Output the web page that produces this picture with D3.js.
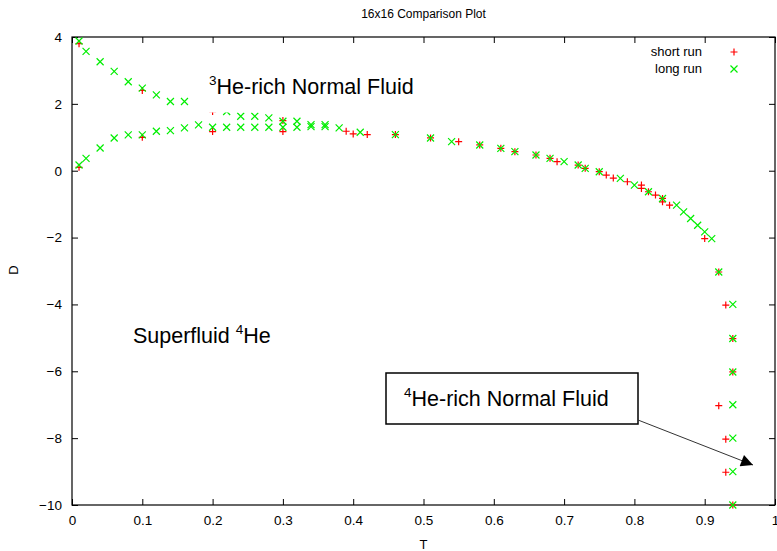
<!DOCTYPE html>
<html><head><meta charset="utf-8">
<script src="https://cdn.jsdelivr.net/npm/d3@7"></script>
<style>
body{margin:0;background:#fff;}
text{font-family:"Liberation Sans",Arial,Helvetica,sans-serif;}
</style></head>
<body><svg id="c" width="777" height="551"></svg>
<script>
const title = "16x16 Comparison Plot";
const xLabel = "T", yLabel = "D";
const xTicks = [0,0.1,0.2,0.3,0.4,0.5,0.6,0.7,0.8,0.9,1];
const yTicks = [4,2,0,-2,-4,-6,-8,-10];
const seriesNames = ["short run","long run"];

const shortT = [0.01,0.10,0.20,0.30,
  0.01,0.10,0.20,0.30,0.39,0.40,0.42,0.46,0.51,0.55,0.58,0.61,0.63,0.66,0.68,0.69,0.72,0.73,0.75,0.76,0.77,0.79,0.81,0.81,0.82,0.83,0.84,0.84,0.85,0.90,0.92,0.93,0.94,0.94,0.92,0.93,0.93,0.94];
const shortD = [3.8,2.4,1.77,1.5,
  0.1,1.0,1.17,1.17,1.18,1.1,1.08,1.08,0.98,0.87,0.77,0.67,0.57,0.47,0.37,0.27,0.17,0.07,-0.03,-0.13,-0.22,-0.33,-0.43,-0.53,-0.63,-0.73,-0.83,-0.93,-1.03,-2.03,-3.03,-4.02,-5.02,-6.02,-7.03,-8.03,-9.02,-10];

const longT = [0.01,0.02,0.04,0.06,0.08,0.10,0.12,0.14,0.16,0.22,0.24,0.26,0.28,0.30,0.32,0.34,0.36,
  0.01,0.02,0.04,0.06,0.08,0.10,0.12,0.14,0.16,0.18,0.20,0.22,0.24,0.26,0.28,0.30,0.32,0.34,0.36,0.38,0.41,0.46,0.51,0.54,0.58,0.61,0.63,0.66,0.68,0.70,0.72,0.73,0.75,0.78,0.80,0.82,0.84,0.86,0.87,0.88,0.89,0.90,0.91,0.92,0.94,0.94,0.94,0.94,0.94,0.94,0.94];
const longD = [3.88,3.57,3.26,2.97,2.66,2.47,2.27,2.07,2.07,1.77,1.63,1.63,1.58,1.48,1.48,1.38,1.38,
  0.17,0.37,0.68,0.98,1.07,1.07,1.18,1.2,1.28,1.37,1.3,1.3,1.3,1.3,1.3,1.3,1.3,1.32,1.32,1.28,1.15,1.08,0.98,0.87,0.77,0.67,0.57,0.47,0.37,0.27,0.17,0.07,-0.03,-0.23,-0.43,-0.63,-0.83,-1.03,-1.23,-1.43,-1.63,-1.83,-2.03,-3.03,-4.0,-5.02,-6.02,-7.0,-8.0,-9.0,-10];

const svg = d3.select("#c");
const L=72, R=775, T=37, B=505;
const x = d3.scaleLinear().domain([0,1]).range([L,R]);
const y = d3.scaleLinear().domain([-10,4]).range([B,T]);

// title
svg.append("text").attr("x",(L+R)/2).attr("y",18).attr("text-anchor","middle")
  .attr("font-size",12).text(title);

// axes with inward ticks
const tl=6;
const fmtX = d=> d===0?"0":(d===1?"1":d3.format(".1f")(d));
const gx = svg.append("g").attr("transform",`translate(0,${B})`)
  .call(d3.axisBottom(x).tickValues(xTicks).tickFormat(fmtX).tickSizeInner(-tl).tickSizeOuter(0).tickPadding(10));
const gxt = svg.append("g").attr("transform",`translate(0,${T})`)
  .call(d3.axisTop(x).tickValues(xTicks).tickFormat("").tickSizeInner(-tl).tickSizeOuter(0));
const gy = svg.append("g").attr("transform",`translate(${L},0)`)
  .call(d3.axisLeft(y).tickValues(yTicks).tickFormat(d3.format("d")).tickSizeInner(-tl).tickSizeOuter(0).tickPadding(10));
const gyr = svg.append("g").attr("transform",`translate(${R},0)`)
  .call(d3.axisRight(y).tickValues(yTicks).tickFormat("").tickSizeInner(-tl).tickSizeOuter(0));
[gx,gxt,gy,gyr].forEach(g=>{
  g.select(".domain").remove();
  g.selectAll("line").attr("stroke","#000").attr("stroke-width",1);
  g.selectAll("text").attr("font-size",13.5).attr("fill","#000")
   .style("font-family",'"Liberation Sans",Arial,sans-serif');
});
svg.append("rect").attr("x",L).attr("y",T).attr("width",R-L).attr("height",B-T)
  .attr("fill","none").attr("stroke","#000").attr("stroke-width",1.2);

// axis labels
svg.append("text").attr("x",(L+R)/2).attr("y",549).attr("text-anchor","middle").attr("font-size",13).text(xLabel);
svg.append("text").attr("x",13).attr("y",270).attr("text-anchor","middle").attr("font-size",13)
  .attr("transform","rotate(-90,13,270)").attr("dy","0.35em").text(yLabel);

// markers
const s=3.5;
const plus = (g,px,py)=>g.append("path").attr("d",`M${px-s},${py}H${px+s}M${px},${py-s}V${py+s}`);
const cross = (g,px,py)=>g.append("path").attr("d",`M${px-s},${py-s}L${px+s},${py+s}M${px-s},${py+s}L${px+s},${py-s}`);

const gS = svg.append("g").attr("stroke","#ff0000").attr("stroke-width",1.2).attr("fill","none");
shortT.forEach((t,i)=>plus(gS,x(t),y(shortD[i])));
const gL = svg.append("g").attr("stroke","#00ee00").attr("stroke-width",1.2).attr("fill","none");
longT.forEach((t,i)=>cross(gL,x(t),y(longD[i])));

// legend
const lg = svg.append("g");
lg.append("text").attr("x",702).attr("y",56).attr("text-anchor","end").attr("font-size",13).text(seriesNames[0]);
lg.append("text").attr("x",702).attr("y",73).attr("text-anchor","end").attr("font-size",13).text(seriesNames[1]);
const lgS = lg.append("g").attr("stroke","#ff0000").attr("stroke-width",1.2);
plus(lgS,734,52);
const lgL = lg.append("g").attr("stroke","#00ee00").attr("stroke-width",1.2);
cross(lgL,734,69);

// annotations (text boxes with white fill)
const fs=21.5, sup=13.5;
svg.append("rect").attr("x",205).attr("y",66).attr("width",215).attr("height",46.5).attr("fill","#fff");
const a1 = svg.append("text").attr("x",209).attr("y",94).attr("font-size",fs);
a1.append("tspan").attr("font-size",sup).attr("dy",-9).text("3");
a1.append("tspan").attr("dy",9).text("He-rich Normal Fluid");

const a2 = svg.append("text").attr("x",133).attr("y",343).attr("font-size",fs);
a2.append("tspan").text("Superfluid ");
a2.append("tspan").attr("font-size",sup).attr("dy",-9).text("4");
a2.append("tspan").attr("dy",9).text("He");

svg.append("rect").attr("x",386).attr("y",373).attr("width",252).attr("height",51)
  .attr("fill","#fff").attr("stroke","#000").attr("stroke-width",1.5);
const a3 = svg.append("text").attr("x",404).attr("y",406).attr("font-size",fs);
a3.append("tspan").attr("font-size",sup).attr("dy",-9).text("4");
a3.append("tspan").attr("dy",9).text("He-rich Normal Fluid");

// arrow
svg.append("defs").append("marker").attr("id","ah").attr("viewBox","0 0 10 10")
  .attr("refX",10).attr("refY",5).attr("markerWidth",15).attr("markerHeight",12)
  .attr("markerUnits","userSpaceOnUse").attr("orient","auto")
  .append("path").attr("d","M0,0L10,5L0,10z").attr("fill","#000");
svg.append("line").attr("x1",638).attr("y1",420).attr("x2",753).attr("y2",465)
  .attr("stroke","#333").attr("stroke-width",1).attr("marker-end","url(#ah)");
</script></body></html>
